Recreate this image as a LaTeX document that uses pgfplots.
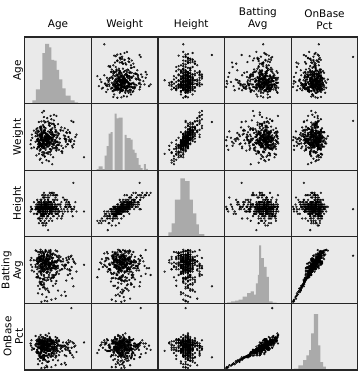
\documentclass[border=0pt]{standalone}
\usepackage{pgfplots}
\pgfplotsset{compat=1.18}
\usepackage{pgfplotstable}
\usepgfplotslibrary{groupplots}
\usepackage{fontspec}
\setmainfont{DejaVu Sans}
\definecolor{panelbg}{RGB}{234,234,234}
\definecolor{histc}{RGB}{170,170,170}
% A=Age, W=Weight, H=Height, B=Batting Avg, O=OnBase Pct (scaled units)
\pgfplotstableread{
A W H B O
78.2 23.7 38 61 43
63 69.2 41.5 69 75.2
65.4 67.8 81 42 29
35 28 10 55 35
28 79.6 62.5 58 40
30 81.6 66 52 36
27 45 45 28.3 18.9
34 38 41.5 28.8 19.8
38 75.4 62.5 74 42
40 15 24 50 33
32 47 45 74 50
44 55 48.5 73.7 48
26 41 38 74.3 50
36 50 45 73.5 51.5
41 52 55.5 63 44
27 38 31 71 42
55 47 38 58 31
33 29 20.5 66 40
22 60 55.5 49.9 33
46 43 55.5 72.8 47
30 55 34.5 55 37
38 34 27.5 62 36
59.5 49 52 68 45
25 41 38 45.2 29.7
36 64 59 60 40
18 36 34.5 65 37
44 58 62.5 52 30.6
29 45 34.5 72 48
51 31 27.5 57 38
35 50 55.5 47.6 28.8
24 67.8 41.5 64 42
40 40 45 70 41
28 27 27.5 59 35
48 53 38 67 44
32 46 52 39.1 26.1
56.3 37 45 61 36
21 56 41.5 73.2 45
37 42 38 54 36
43 61 55.5 63 39
26 33 41.5 49 31
34 48 31 69 46
62 44 45 56 33
31 24.4 34.5 64 41
39 65.7 45 58 39
23 51 52 72.3 44
47 39 34.5 60 35
30 57 52 43.4 27.9
53 35 34.5 66 43
27 47 41.5 62 40
42 69.8 62.5 51 32
20 43 45 73.7 49
35 30 31 57 35
57.6 54 55.5 65 42
33 45 27.5 47.1 30.6
26 62 55.5 68 42
45 38 41.5 59 39
38 49 45 71 46
22 35 34.5 53 34
50 58 45 64 37
29 41 45 41 26.55
36 66.4 52 62 41
60.8 46 48.5 56 35
24 28 27.5 67 45
41 52 38 49.5 30.15
32 44 41.5 72.8 44
55 60 55.5 61 40
28 39 41.5 58 36
45 33 34.5 69 45
34 50 41.5 66 38
18 57 52 55 37
39 42 34.5 63 43
27 68.5 55.5 45.7 29.25
49 47 48.5 65 40
31 25 24 60 36
37 55 45 72 47
23 46 48.5 50 33
58.2 40 41.5 57 38
43 63 45 64 41
30 37 38 68 44
35 48 52 38.2 24.75
52 31 31 61 39
26 59 45 54 34
40 45 34.5 70 43
33 53 52 62 38
22 34 34.5 67 42
47 65 48.5 58 40
29 43 41.5 48.5 30.6
38 27 38 72.3 46
55.6 50 45 60 37
25 61 52 65 42
42 39 31 52 35
34 47 48.5 70 44
20 54 41.5 59 40
45 36 41.5 63 38
31 67.1 48.5 56 36
60.1 44 52 66 43
28 52 45 42.9 27.9
37 30 34.5 61 41
50 57 48.5 68 40
24 41 38 55 33
33 49 45 64 44
41 23.7 31 71 45
27 62 48.5 58 36
56.9 46 45 47.1 30.15
36 38 45 66 41
23 55 41.5 62 38
44 42 41.5 57 37
30 69.2 59 69 43
48 33 38 53 31
32 49 41.5 73.2 47
26 45 41.5 61 40
39 58 52 49.5 32
21 26 34.5 65 42
54 51 41.5 60 39
35 37 31 72 46
29 64 59 56 37
46 43 34.5 64 40
25 32 38 46.2 29.7
40 55 45 67 44
33 47 48.5 59 36
58.8 40 38 63 41
27 60 48.5 52 33
43 35 38 70 43
31 50 45 40.5 27
22 44 45 62 39
37 66.4 52 66 41
52 29 38 57 35
28 53 38 72.8 45
34 41 48.5 55 37
45 56 45 64 43
24 38 38 60 38
39 48 41.5 68 42
30 62 52 48.1 31
56.3 45 48.5 61 39
26 34 24 72.3 44
42 52 52 58 36
35 43 41.5 65 41
21 59 48.5 50 34
48 39 31 69 45
32 67.8 62.5 62 40
38 31 41.5 56 35
27 47 41.5 66 42
61.4 54 45 53 33
30 37 45 71 47
44 45 41.5 44.3 28.8
23 57 48.5 63 41
36 42 34.5 59 37
29 26 31 67 43
51 61 52 64 40
34 49 45 54 35
25 40 27.5 72 46
41 65.7 62.5 60 38
31 35 45 49.5 31
47 51 41.5 65 44
22 44 45 57 36
38 58 48.5 70 45
28 30 31 62 40
55 47 55.5 37.2 23.85
33 53 48.5 66 41
26 39 34.5 58 37
43 63 45 63 39
30 45 48.5 51 34
37 34 38 68 44
20 50 41.5 61 41
49 42 38 56 34
32 60 48.5 72.3 46
24 36 45 64 39
39 48 38 46.7 29.7
56.9 55 52 67 43
29 41 38 59 38
35 68.5 55.5 65 42
45 32 41.5 54 36
27 46 45 69 44
40 52 48.5 61 37
23 37 27.5 42.4 27.45
53 57 59 64 40
34 44 38 58 39
30 28 31 71 45
42 65 52 60 41
25 50 38 66 43
36 40 48.5 52 35
59.5 49 45 63 38
31 55 59 57 36
46 35 27.5 68 42
33 48 48.5 32.5 21.15
28 41 34.5 34.9 23.4
44 56 59 31.1 21.6
36 44 34.5 36.8 25.2
25 52 48.5 39.6 25.65
51 38 41.5 34 22.5
30 61 41.5 41.5 27.45
39 33 38 30.2 19.8
23 46 38 35.8 22.5
47 54 48.5 38.2 26.1
34 40 41.5 40.1 24.75
27 58 48.5 43.8 29.25
41 35 45 42.4 26.55
31 49 41.5 29.3 19.35
56.3 43 45 33.5 22.05
63.3 46 38 59 38
65.9 40 41.5 64 42
60.8 55 48.5 57 35
67.8 49 52 62 40
64.6 36 31 66 43
69.1 52 38 55 34
62 43 45 68 44
58.8 58 48.5 52 36
66.5 44 45 63 39
64 38 41.5 49 31
14.5 45 45 61 40
15.5 52 41.5 56 36
14 40 38 65 42
16 48 41.5 59 38
15 35 41.5 67 45
30 74 62.5 60 39
36 18.7 24 63 40
42 76.8 66 58 37
25 20.6 27.5 66 43
34 72.6 59 64 42
28 16.9 20.5 57 36
45 75.4 62.5 53 33
33 20 20.5 62 41
39 71.2 66 67 45
26 21.9 24 59 38
35 52 62.5 61 40
29 38 17 65 43
40 60 66 58 37
32 33 17 63 42
46 49 62.5 55 35
24 42 20.5 68 44
37 63 66 60 39
30 30 20.5 57 38
28 44 41.5 64 44
33 51 45 60 36
25 39 38 67 43
36 47 48.5 62 32
30 42 34.5 58 40
27 55 45 66 48
41 46 41.5 63 35
24 37 41.5 70 48
32 49 38 61 36
38 53 52 57 36
29 40 38 65 40
35 45 45 68 45
22 50 41.5 59 33
44 43 38 64 45
31 57 48.5 62 38
26 41 45 55 33
37 48 41.5 69 48
28 36 34.5 61 37
34 52 48.5 66 43
40 44 41.5 58 33
23 47 38 63 46
30 54 45 71 43
46 39 38 60 37
27 49 52 65 36
33 43 41.5 57 40
39 56 48.5 62 45
25 45 45 68 41
31 38 34.5 64 41
36 50 41.5 59 32
29 46 45 66 43
42 41 41.5 61 39
26 52 45 56 37
34 47 38 70 40
30 35 31 63 43
38 58 52 60 37
24 43 41.5 67 42
45 48 45 58 43
32 40 38 64 37
28 55 48.5 62 46
35 44 45 69 38
27 50 41.5 55 39
40 37 38 65 39
31 46 48.5 61 38
22 53 45 66 36
37 42 41.5 59 42
29 48 41.5 63 41
33 39 34.5 68 42
43 51 48.5 60 41
26 45 38 64 37
35 56 52 57 37
30 41 41.5 70 42
38 47 45 62 45
24 44 45 58 31
32 54 48.5 65 43
28 38 38 61 39
41 49 41.5 67 42
34 43 38 63 44
27 57 52 59 36
36 46 45 66 44
31 40 34.5 60 34
25 51 48.5 64 46
39 45 41.5 56 31
29 35 34.5 69 44
33 52 45 62 36
47 42 41.5 65 41
26 48 45 61 45
37 55 52 58 35
30 44 38 67 47
23 40 41.5 63 34
42 50 45 60 37
35 46 48.5 64 42
28 53 41.5 57 40
32 39 38 66 36
38 43 45 62 41
27 47 41.5 68 42
44 36 34.5 59 35
31 58 55.5 63 45
25 42 38 65 38
36 49 45 61 40
29 45 48.5 55 31
34 41 41.5 70 49
40 54 48.5 64 39
26 38 31 60 38
33 50 45 67 37
30 44 41.5 62 41
37 47 38 58 40
24 56 52 66 41
41 40 41.5 63 43
28 51 45 69 38
35 43 41.5 61 39
31 48 48.5 65 40
27 37 34.5 59 42
39 52 45 62 33
22 46 41.5 64 44
34 42 38 57 35
30 55 48.5 68 41
43 45 45 60 43
26 49 41.5 66 38
37 39 38 63 46
32 53 48.5 58 33
29 45 41.5 48.1 30.6
36 50 45 50 31
25 42 38 49 32
40 47 48.5 52 33
31 55 48.5 47.6 30.15
27 39 34.5 53 35
34 44 41.5 49.5 30.6
45 52 45 46.7 30.15
23 47 45 51 34
38 41 38 48.5 29.7
30 57 52 44.8 28.8
33 36 34.5 54 33
28 49 45 46.2 29.25
42 43 41.5 49.9 33
26 53 48.5 43.8 28.35
}\players

\pgfplotsset{
  pts/.style={only marks, mark=*, mark size=0.9bp,
    mark options={draw=none, fill=black, fill opacity=0.5}},
  hst/.style={ybar interval, fill=histc, draw=none},
  xA/.style={xmin=7, xmax=87}, yA/.style={ymin=7, ymax=87},
  xW/.style={xmin=7.5, xmax=90.8}, yW/.style={ymin=7.5, ymax=90.8},
  xH/.style={xmin=0, xmax=100}, yH/.style={ymin=0, ymax=100},
  xB/.style={xmin=26.9, xmax=85.7}, yB/.style={ymin=26.9, ymax=85.7},
  xO/.style={xmin=17.1, xmax=79.6}, yO/.style={ymin=17.1, ymax=79.6},
}

\begin{document}
\begin{tikzpicture}
\begin{groupplot}[
  group style={group size=5 by 5, horizontal sep=0pt, vertical sep=0pt},
  width=66.6bp, height=66.6bp, scale only axis,
  xmin=0, xmax=100, ymin=0, ymax=100,
  xtick=\empty, ytick=\empty,
  axis background/.style={fill=panelbg},
  axis line style={line width=1.2bp, black!85},
  axis on top,
  title style={font=\fontsize{10.5}{11.5}\selectfont, align=center,
    at={(0.5,1)}, anchor=south, inner sep=1.5pt},
  ylabel style={font=\fontsize{10.5}{11.5}\selectfont, align=center,
    at={(axis description cs:0,0.5)}, anchor=south, inner sep=1.5pt},
]
% ---- row 1: Age
\nextgroupplot[title={Age}, ylabel={Age}]
\addplot[hst] coordinates {(11.6,5) (16.5,21.5) (23,35.5) (26.5,75.7) (30.5,89.5) (36.5,84.5) (40,65.5) (44,64.5) (48,50.5) (51.5,36.5) (56.5,23) (61.5,12) (69,5) (75,2) (80,0)};
\nextgroupplot[title={Weight}, xW, yA]
\addplot[pts] table[x=W,y=A]{\players};
\nextgroupplot[title={Height}, xH, yA]
\addplot[pts] table[x=H,y=A]{\players};
\nextgroupplot[title={Batting\\Avg}, xB, yA]
\addplot[pts] table[x=B,y=A]{\players};
\nextgroupplot[title={OnBase\\Pct}, xO, yA]
\addplot[pts] table[x=O,y=A]{\players};
% ---- row 2: Weight
\nextgroupplot[ylabel={Weight}, xA, yW]
\addplot[pts] table[x=A,y=W]{\players};
\nextgroupplot
\addplot[hst] coordinates {(8,1.8) (11,5.8) (17,1.8) (20,22) (23,36) (26,55) (29,57) (32,0) (35,85) (38,78) (41,79) (47,0) (50,53) (53,48) (59,46) (62,31) (65,26) (68,18) (71,8) (74,3) (77,0) (79,9) (82,2) (85,0)};
\nextgroupplot[xH, yW]
\addplot[pts] table[x=H,y=W]{\players};
\nextgroupplot[xB, yW]
\addplot[pts] table[x=B,y=W]{\players};
\nextgroupplot[xO, yW]
\addplot[pts] table[x=O,y=W]{\players};
% ---- row 3: Height
\nextgroupplot[ylabel={Height}, xA, yH]
\addplot[pts] table[x=A,y=H]{\players};
\nextgroupplot[xW, yH]
\addplot[pts] table[x=W,y=H]{\players};
\nextgroupplot
\addplot[hst] coordinates {(15.5,6.7) (20.5,20) (25.5,56) (33.5,87.7) (40.5,83.7) (47.5,56) (52.5,35) (57.5,18.7) (61.5,4.2) (69.5,0)};
\nextgroupplot[xB, yH]
\addplot[pts] table[x=B,y=H]{\players};
\nextgroupplot[xO, yH]
\addplot[pts] table[x=O,y=H]{\players};
% ---- row 4: Batting Avg
\nextgroupplot[ylabel={Batting\\Avg}, xA, yB]
\addplot[pts] table[x=A,y=B]{\players};
\nextgroupplot[xW, yB]
\addplot[pts] table[x=W,y=B]{\players};
\nextgroupplot[xH, yB]
\addplot[pts] table[x=H,y=B]{\players};
\nextgroupplot
\addplot[hst] coordinates {(4,1.5) (10,3) (16,4) (21,5.5) (27,10) (34,15.5) (39,18) (44,13) (47,30) (50,43) (52,87) (55,68) (59,55) (63,40) (66.5,3) (72,1) (78,0)};
\nextgroupplot[xO, yB]
\addplot[pts] table[x=O,y=B]{\players};
% ---- row 5: OnBase Pct
\nextgroupplot[ylabel={OnBase\\Pct}, xA, yO]
\addplot[pts] table[x=A,y=O]{\players};
\nextgroupplot[xW, yO]
\addplot[pts] table[x=W,y=O]{\players};
\nextgroupplot[xH, yO]
\addplot[pts] table[x=H,y=O]{\players};
\nextgroupplot[xB, yO]
\addplot[pts] table[x=B,y=O]{\players};
\nextgroupplot
\addplot[hst] coordinates {(4,2) (11,7) (18,15) (23,22) (27,30) (30,55) (34,84) (40.5,37) (44,12) (48,5) (52,1.5) (56,0)};
\end{groupplot}
\path ([xshift=-24bp,yshift=37bp]group c1r1.north west) rectangle ([xshift=1bp,yshift=-2bp]group c5r5.south east);
\end{tikzpicture}
\end{document}
